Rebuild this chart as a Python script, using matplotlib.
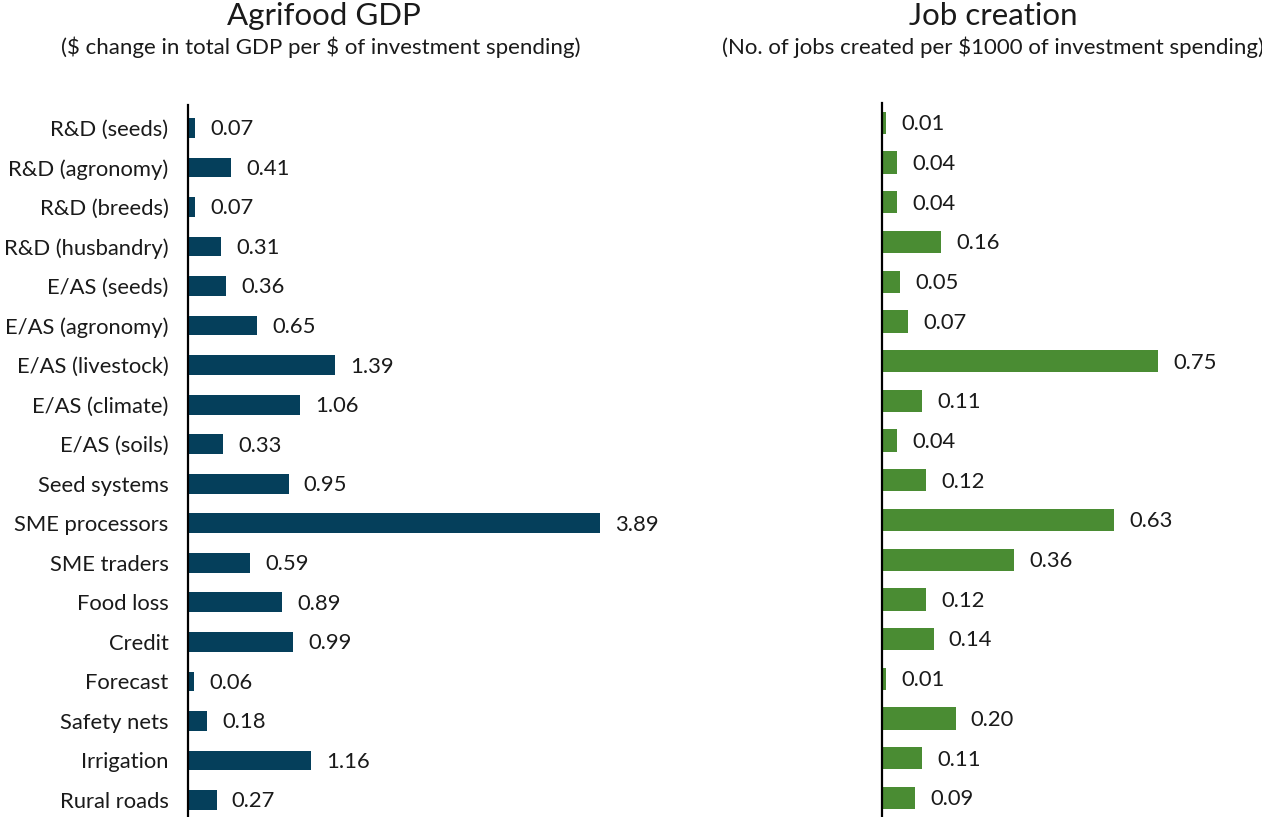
import matplotlib.pyplot as plt

plt.rcParams["font.family"] = ["Lato", "DejaVu Sans"]

categories = [
    "R&D (seeds)", "R&D (agronomy)", "R&D (breeds)", "R&D (husbandry)",
    "E/AS (seeds)", "E/AS (agronomy)", "E/AS (livestock)", "E/AS (climate)",
    "E/AS (soils)", "Seed systems", "SME processors", "SME traders",
    "Food loss", "Credit", "Forecast", "Safety nets", "Irrigation", "Rural roads",
]
gdp_values = [0.07, 0.41, 0.07, 0.31, 0.36, 0.65, 1.39, 1.06, 0.33, 0.95,
              3.89, 0.59, 0.89, 0.99, 0.06, 0.18, 1.16, 0.27]
job_values = [0.01, 0.04, 0.04, 0.16, 0.05, 0.07, 0.75, 0.11, 0.04, 0.12,
              0.63, 0.36, 0.12, 0.14, 0.01, 0.20, 0.11, 0.09]

W, H = 1262, 817
fig = plt.figure(figsize=(W / 100, H / 100), dpi=100)

# axes positions in pixels
ax1 = fig.add_axes([188 / W, 0, (640 - 188) / W, 1 - 105 / H])
ax2 = fig.add_axes([882 / W, 0, (1262 - 882) / W, 1 - 103 / H])

y = list(range(len(categories)))
FS = 15.8

ax1.barh(y, gdp_values, height=0.5, color="#053f5b")
ax1.set_xlim(0, 4.27)
ax1.set_ylim(17.43, -0.58)
ax1.set_yticks(y)
ax1.set_yticklabels(categories, fontsize=FS, color="#1a1a1a")
ax1.tick_params(axis="y", length=0, pad=14)
for yi, v in zip(y, gdp_values):
    ax1.annotate(f"{v:.2f}", (v, yi), xytext=(11, -1), textcoords="offset points",
                 ha="left", va="center", fontsize=FS, color="#1a1a1a")

ax2.barh(y, job_values, height=0.56, color="#4a8c33")
ax2.set_xlim(0, 1.033)
ax2.set_ylim(17.48, -0.5)
ax2.set_yticks([])
for yi, v in zip(y, job_values):
    ax2.annotate(f"{v:.2f}", (v, yi), xytext=(11, -1), textcoords="offset points",
                 ha="left", va="center", fontsize=FS, color="#1a1a1a")

for ax in (ax1, ax2):
    ax.set_xticks([])
    for s in ("top", "right", "bottom"):
        ax.spines[s].set_visible(False)
    ax.spines["left"].set_linewidth(1.6)
    ax.spines["left"].set_color("black")

fig.text(324 / W, 1 - 16 / H, "Agrifood GDP", ha="center", va="center",
         fontsize=22.5, color="#1a1a1a")
fig.text(321 / W, 1 - 47 / H, r"(\$ change in total GDP per \$ of investment spending)",
         ha="center", va="center", fontsize=16, color="#1a1a1a")
fig.text(993 / W, 1 - 16 / H, "Job creation", ha="center", va="center",
         fontsize=22.5, color="#1a1a1a")
fig.text(993 / W, 1 - 47 / H, r"(No. of jobs created per \$1000 of investment spending)",
         ha="center", va="center", fontsize=16, color="#1a1a1a")

fig.savefig("out.png", dpi=100)
